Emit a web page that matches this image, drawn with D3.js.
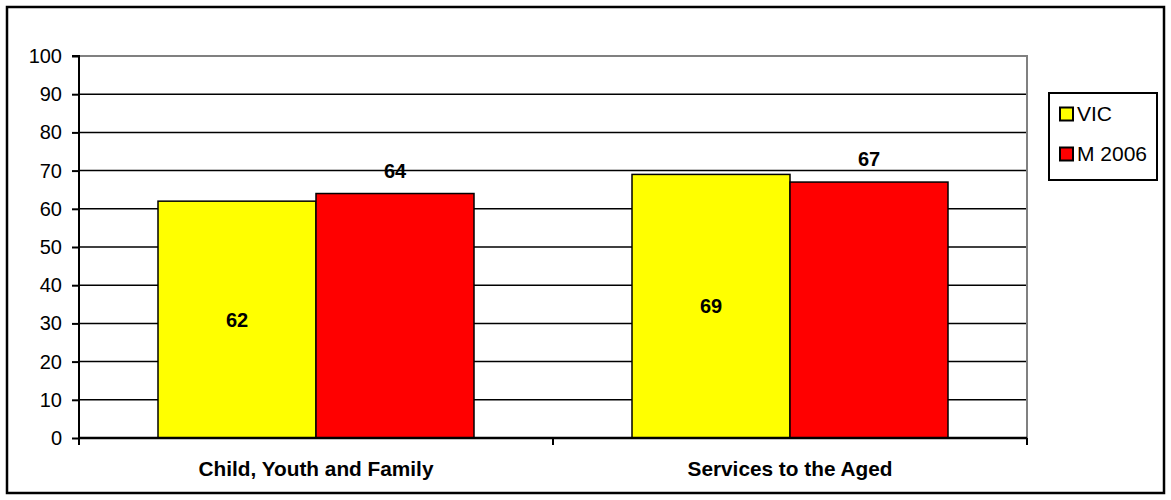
<!DOCTYPE html>
<html>
<head>
<meta charset="utf-8">
<script src="https://cdn.jsdelivr.net/npm/d3@7"></script>
<style>
  html, body { margin: 0; padding: 0; background: #fff; }
  svg { display: block; font-family: Arial, "Liberation Sans", sans-serif; }
</style>
</head>
<body>
<svg id="chart" width="1171" height="500"></svg>
<script>
// Categories and series values
const categories = ["Child, Youth and Family", "Services to the Aged"];
const seriesNames = ["VIC", "M 2006"];
const vicValues = [62, 69];
const m2006Values = [64, 67];
const seriesColors = ["#ffff00", "#ff0000"];
const yTicks = [0, 10, 20, 30, 40, 50, 60, 70, 80, 90, 100];

const series = [
  { name: seriesNames[0], values: vicValues, color: seriesColors[0], labelPos: "center" },
  { name: seriesNames[1], values: m2006Values, color: seriesColors[1], labelPos: "outside" }
];

const svg = d3.select("#chart");
const plot = { left: 79, right: 1027, top: 56, bottom: 438 };
const FONT = 20;

// Outer chart frame
svg.append("rect")
  .attr("x", 7).attr("y", 7).attr("width", 1157).attr("height", 486)
  .attr("fill", "#fff").attr("stroke", "#000").attr("stroke-width", 2.5);

const x0 = d3.scaleBand().domain(categories).range([plot.left, plot.right]).paddingInner(0).paddingOuter(0);
const groupInnerPad = x0.bandwidth() / 6; // gap around each group of bars
const x1 = d3.scaleBand().domain(seriesNames)
  .range([groupInnerPad, x0.bandwidth() - groupInnerPad]).padding(0);
const y = d3.scaleLinear().domain([0, 100]).range([plot.bottom, plot.top]);

// Horizontal gridlines
svg.append("g")
  .selectAll("line")
  .data(yTicks.filter(t => t > 0 && t < 100))
  .join("line")
  .attr("x1", plot.left).attr("x2", plot.right)
  .attr("y1", d => y(d)).attr("y2", d => y(d))
  .attr("stroke", "#000").attr("stroke-width", 1.5);

// Plot area border (top and right) in grey
svg.append("path")
  .attr("d", `M${plot.left},${y(100)}H${plot.right}V${plot.bottom}`)
  .attr("fill", "none").attr("stroke", "#808080").attr("stroke-width", 2);

// Bars
const groups = svg.append("g").selectAll("g")
  .data(categories)
  .join("g")
  .attr("transform", d => `translate(${x0(d)},0)`);

series.forEach(s => {
  groups.append("rect")
    .attr("x", () => x1(s.name))
    .attr("y", (d, i) => y(s.values[i]))
    .attr("width", x1.bandwidth())
    .attr("height", (d, i) => y(0) - y(s.values[i]))
    .attr("fill", s.color)
    .attr("stroke", "#000").attr("stroke-width", 1.5);
});

// Value labels
series.forEach(s => {
  groups.append("text")
    .attr("x", () => x1(s.name) + x1.bandwidth() / 2)
    .attr("y", (d, i) => s.labelPos === "center"
      ? (y(s.values[i]) + y(0)) / 2
      : y(s.values[i]) - 23)
    .attr("dy", "0.35em")
    .attr("text-anchor", "middle")
    .attr("font-weight", "bold")
    .attr("font-size", FONT)
    .attr("fill", "#000")
    .text((d, i) => s.values[i]);
});

// Y axis
const yAxis = d3.axisLeft(y).tickValues(yTicks).tickSize(7).tickPadding(10);
const yg = svg.append("g").attr("transform", `translate(${plot.left},0)`).call(yAxis);
yg.select(".domain").attr("stroke", "#000").attr("stroke-width", 2)
  .attr("d", `M-7,${y(100)}H0V${y(0)}`);
yg.selectAll(".tick line").attr("stroke", "#000").attr("stroke-width", 2);
yg.selectAll(".tick text").attr("font-size", FONT).attr("fill", "#000")
  .attr("font-family", "Arial, 'Liberation Sans', sans-serif");

// X axis
const xg = svg.append("g").attr("transform", `translate(0,${plot.bottom})`);
xg.append("line")
  .attr("x1", plot.left).attr("x2", plot.right)
  .attr("y1", 0).attr("y2", 0)
  .attr("stroke", "#000").attr("stroke-width", 2.5);
const xTickPositions = [plot.left].concat(categories.map(c => x0(c) + x0.bandwidth()));
xg.selectAll("line.tick")
  .data(xTickPositions)
  .join("line")
  .attr("class", "tick")
  .attr("x1", d => d).attr("x2", d => d)
  .attr("y1", 0).attr("y2", 7)
  .attr("stroke", "#000").attr("stroke-width", 2);
xg.selectAll("text")
  .data(categories)
  .join("text")
  .attr("x", d => x0(d) + x0.bandwidth() / 2)
  .attr("y", 31)
  .attr("dy", "0.35em")
  .attr("text-anchor", "middle")
  .attr("font-weight", "bold")
  .attr("font-size", 20.8)
  .attr("fill", "#000")
  .text(d => d);

// Legend
const legend = svg.append("g");
legend.append("rect")
  .attr("x", 1049).attr("y", 93).attr("width", 108).attr("height", 87)
  .attr("fill", "#fff").attr("stroke", "#000").attr("stroke-width", 2);
const items = legend.selectAll("g.item")
  .data(series)
  .join("g")
  .attr("class", "item")
  .attr("transform", (d, i) => `translate(1060,${114 + i * 40})`);
items.append("rect")
  .attr("x", 0).attr("y", -6.5).attr("width", 13).attr("height", 13)
  .attr("fill", d => d.color).attr("stroke", "#000").attr("stroke-width", 2);
items.append("text")
  .attr("x", 17).attr("y", 0).attr("dy", "0.35em")
  .attr("font-size", 21).attr("fill", "#000")
  .text(d => d.name);
</script>
</body>
</html>
